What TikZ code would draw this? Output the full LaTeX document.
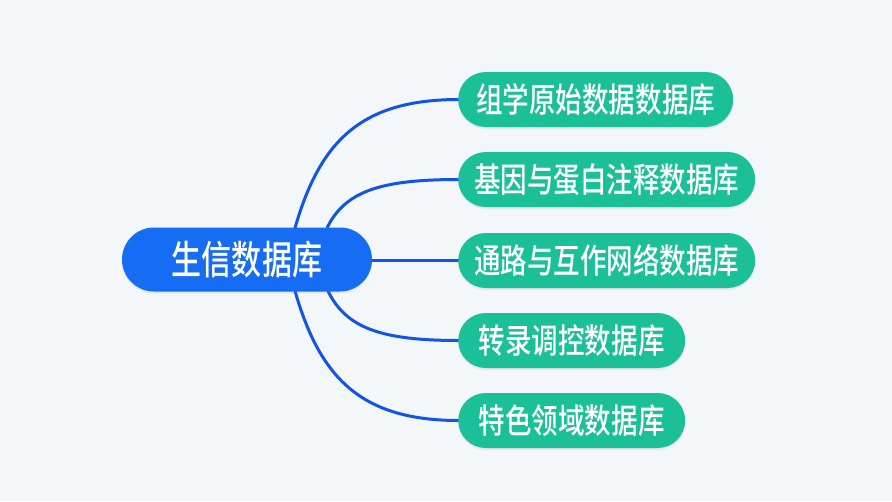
\documentclass[tikz,border=0pt]{standalone}
\usepackage{fontspec}
\newfontfamily\cjk[FakeStretch=0.78]{Noto Sans CJK SC Medium}
\newfontfamily\cjkroot[FakeStretch=0.76]{Noto Sans CJK SC Medium}
\usetikzlibrary{calc,shadows}
\definecolor{bgc}{RGB}{244,247,250}
\definecolor{rootblue}{RGB}{22,108,242}
\definecolor{lineblue}{RGB}{18,84,230}
\definecolor{leafgreen}{RGB}{28,192,152}
\tikzset{
  rootbox/.style={fill=rootblue, rounded corners=32pt, minimum width=250pt, minimum height=64pt,
    text=white, font=\cjkroot\fontsize{39.5}{44}\selectfont, inner sep=0pt,
    drop shadow={opacity=0.12, shadow xshift=0pt, shadow yshift=-2pt}},
  leafbox/.style={fill=leafgreen, rounded corners=27.5pt, minimum height=55pt,
    text=white, font=\cjk\fontsize{34}{40}\selectfont, inner sep=0pt, anchor=west,
    drop shadow={opacity=0.12, shadow xshift=0pt, shadow yshift=-2pt}},
  conn/.style={draw=lineblue, line width=3pt}
}
\begin{document}
\begin{tikzpicture}[x=1pt,y=-1pt]
\fill[bgc] (0,0) rectangle (892,501);
\useasboundingbox (0,0) rectangle (892,501);
% connectors first (drawn under nodes)
\coordinate (r1) at (295,228);
\coordinate (r2) at (327,228);
\coordinate (r4) at (328,291);
\coordinate (r5) at (295,291);
\coordinate (w1) at (459,99.5);
\coordinate (w2) at (459,179.5);
\coordinate (w3) at (459,260);
\coordinate (w4) at (459,340.5);
\coordinate (w5) at (459,420.5);
\coordinate (re) at (370,260);
\draw[conn] (r1) .. controls +(25,-87) and +(-98,0) .. (w1);
\draw[conn] (r2) .. controls +(18,-37) and +(-78,0) .. (w2);
\draw[conn] (re) -- (w3);
\draw[conn] (r4) .. controls +(18,37) and +(-78,0) .. (w4);
\draw[conn] (r5) .. controls +(25,87) and +(-98,0) .. (w5);
\node[rootbox] (root) at (247,259.5) {生信数据库};
\node[leafbox, minimum width=275pt] (c1) at (458,99.5) {组学原始数据数据库};
\node[leafbox, minimum width=297pt] (c2) at (458,179.5) {基因与蛋白注释数据库};
\node[leafbox, minimum width=297pt] (c3) at (458,260.5) {通路与互作网络数据库};
\node[leafbox, minimum width=227pt] (c4) at (458,340.5) {转录调控数据库};
\node[leafbox, minimum width=227pt] (c5) at (458,420.5) {特色领域数据库};
\end{tikzpicture}
\end{document}
